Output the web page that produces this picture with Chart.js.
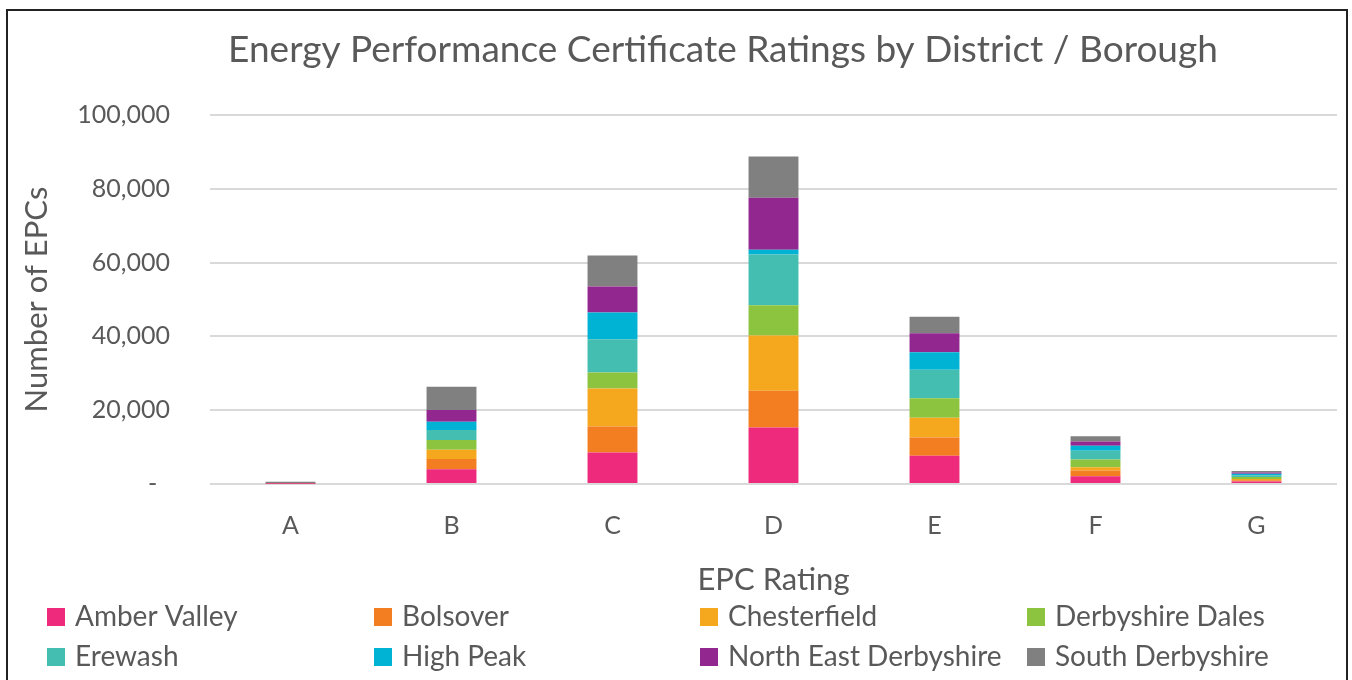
<!DOCTYPE html>
<html>
<head>
<meta charset="utf-8">
<script src="https://cdn.jsdelivr.net/npm/chart.js@4"></script>
<style>
  html, body { margin: 0; padding: 0; background: #fff; }
  #wrap { position: relative; width: 1352px; height: 680px; }
</style>
</head>
<body>
<div id="wrap"><canvas id="epcChart"></canvas></div>
<script>
// EPC ratings and number of certificates per district / borough
const ratings = ["A", "B", "C", "D", "E", "F", "G"];

const amberValley     = [60, 4000, 8550, 15300, 7650, 2100, 700];
const bolsover        = [30, 2800, 7050, 9950, 4950, 1550, 350];
const chesterfield    = [40, 2450, 10300, 15000, 5350, 900, 300];
const derbyshireDales = [40, 2700, 4350, 8200, 5300, 2100, 550];
const erewash         = [50, 2700, 8950, 13750, 7700, 2350, 450];
const highPeak        = [30, 2250, 7300, 1250, 4750, 1350, 450];
const northEastDerby  = [40, 3150, 7050, 14100, 5150, 1150, 300];
const southDerby      = [350, 6300, 8400, 11200, 4500, 1450, 400];

const yTicks = [0, 20000, 40000, 60000, 80000, 100000];

const series = [
    { label: "Amber Valley", data: amberValley, color: "#ED2A7B" },
    { label: "Bolsover", data: bolsover, color: "#F37E22" },
    { label: "Chesterfield", data: chesterfield, color: "#F5A81E" },
    { label: "Derbyshire Dales", data: derbyshireDales, color: "#8DC43F" },
    { label: "Erewash", data: erewash, color: "#43BEB1" },
    { label: "High Peak", data: highPeak, color: "#00B3D4" },
    { label: "North East Derbyshire", data: northEastDerby, color: "#92278F" },
    { label: "South Derbyshire", data: southDerby, color: "#808080" }
];

const chartTitle = "Energy Performance Certificate Ratings by District / Borough";
const textColor = "#595959";
const fontFamily = "Lato, 'Open Sans', sans-serif";

// marco exterior y título (el título va algo desplazado a la derecha, como en Excel)
const framePlugin = {
    id: "frame",
    afterDraw(chart) {
        const ctx = chart.ctx;
        ctx.save();
        ctx.strokeStyle = "#222";
        ctx.lineWidth = 2;
        ctx.strokeRect(7, 10, 1340, 700);
        ctx.font = "37px " + fontFamily;
        ctx.fillStyle = textColor;
        ctx.textAlign = "center";
        ctx.textBaseline = "middle";
        ctx.fillText(chartTitle, 723, 50);
        ctx.restore();
    }
};

// leyenda en rejilla de 4 columnas bajo el eje X
const gridLegend = {
    id: "gridLegend",
    afterDraw(chart) {
        const ctx = chart.ctx;
        const cols = [47, 374, 700, 1027];
        const rows = [617, 657];
        ctx.save();
        ctx.font = "28px " + fontFamily;
        ctx.textBaseline = "middle";
        chart.data.datasets.forEach((ds, i) => {
            const x = cols[i % 4];
            const y = rows[Math.floor(i / 4)];
            ctx.fillStyle = ds.backgroundColor;
            ctx.fillRect(x, y - 9, 18, 18);
            ctx.fillStyle = textColor;
            ctx.fillText(ds.label, x + 28, y);
        });
        ctx.restore();
    }
};

const ctx = document.getElementById("epcChart").getContext("2d");
new Chart(ctx, {
    type: "bar",
    data: {
        labels: ratings,
        datasets: series.map(s => ({
            label: s.label,
            data: s.data,
            backgroundColor: s.color,
            borderWidth: 0,
            categoryPercentage: 1,
            barPercentage: 0.31
        }))
    },
    options: {
        responsive: true,
        maintainAspectRatio: false,
        animation: false,
        layout: { padding: { left: 12, right: 15, top: 115, bottom: 80 } },
        plugins: {
            legend: { display: false },
            tooltip: { enabled: false },
            title: { display: false }
        },
        scales: {
            x: {
                stacked: true,
                grid: { display: false, drawTicks: false },
                border: { display: false },
                ticks: { color: textColor, padding: 27, font: { family: fontFamily, size: 25 } },
                title: {
                    display: true,
                    text: "EPC Rating",
                    color: textColor,
                    font: { family: fontFamily, size: 31 },
                    padding: { top: 0, bottom: 1 }
                },
                afterFit(scale) { scale.height = 116; }
            },
            y: {
                stacked: true,
                min: 0,
                max: 100000,
                afterBuildTicks(scale) { scale.ticks = yTicks.map(v => ({ value: v })); },
                grid: { color: "#d9d9d9", lineWidth: 2, drawTicks: false },
                border: { display: false },
                ticks: {
                    color: textColor,
                    padding: 40,
                    font: { family: fontFamily, size: 25 },
                    callback: v => v === 0 ? "-  " : v.toLocaleString("en-GB")
                },
                title: {
                    display: true,
                    text: "Number of EPCs",
                    color: textColor,
                    font: { family: fontFamily, size: 31 },
                    padding: { top: 6, bottom: 0 }
                },
                afterFit(scale) { scale.width = 198; }
            }
        }
    },
    plugins: [framePlugin, gridLegend]
});
</script>
</body>
</html>
